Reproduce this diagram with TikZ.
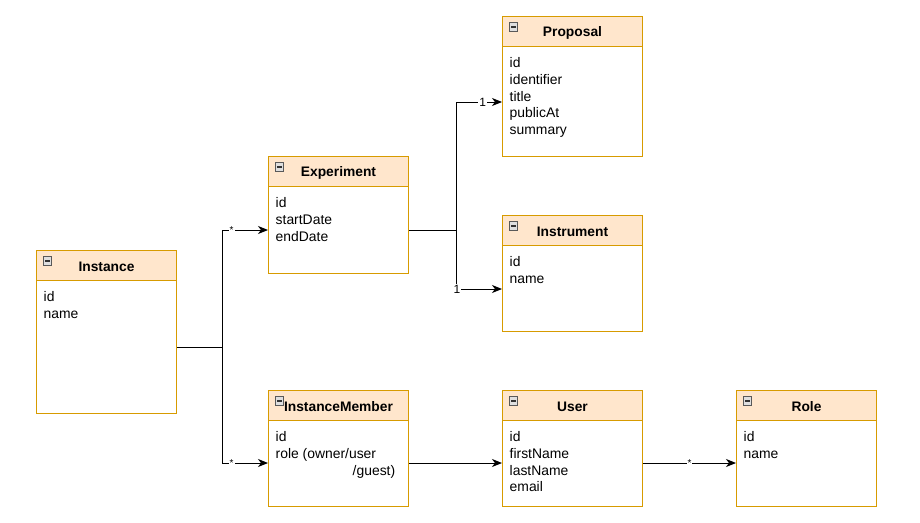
\documentclass[tikz,border=0pt]{standalone}
\usepackage{fontspec}
\setmainfont{Liberation Sans}
\usetikzlibrary{arrows.meta,calc}
\definecolor{hdr}{HTML}{FFE6CC}
\definecolor{bdr}{HTML}{D79B00}
\tikzset{
 classbox/.style={draw=bdr, fill=white, line width=1pt, minimum width=140pt, anchor=north west, inner sep=0pt},
 hdrbox/.style={draw=bdr, fill=hdr, line width=1pt, minimum width=140pt, minimum height=30pt, anchor=north west, inner sep=0pt},
 ctitle/.style={font=\fontsize{13.8}{16}\selectfont\bfseries, inner sep=0pt},
 cfields/.style={font=\fontsize{13.9}{16.7}\selectfont, align=left, anchor=north west, inner sep=0pt},
 collapse/.style={draw=gray!70!black, fill=gray!25, minimum width=8.5pt, minimum height=8.5pt, inner sep=0pt, line width=0.6pt,
   path picture={\draw[black!80, line width=1.3pt] ([xshift=1.8pt]path picture bounding box.west) -- ([xshift=-1.8pt]path picture bounding box.east);}},
 conn/.style={draw=black, line width=1pt},
 arr/.style={conn, -{Stealth[length=10pt,width=8pt,inset=3pt]}},
 lbl/.style={fill=white, inner sep=1pt, font=\fontsize{12}{14}\selectfont},
 slbl/.style={fill=white, inner sep=1pt, font=\fontsize{10}{12}\selectfont},
}
\newcommand\umlclass[6]{%
 \node[classbox, minimum height=#4] (#1) at (#2,#3) {};
 \node[hdrbox] (#1h) at (#1.north west) {};
 \node[ctitle] (#1t) at ($(#1h.center)+(0,1.5)$) {#5};
 \node[collapse] (#1i) at ($(#1h.north west)+(11.5,11)$) {};
 \node[cfields] (#1f) at ($(#1h.south west)+(7.5,10.5)$) {#6};
}
\begin{document}
\begin{tikzpicture}[x=1pt,y=-1pt]
\useasboundingbox[fill=white] (0,0) rectangle (920,522);
\umlclass{inst}{36}{250}{163}{Instance}{id\\name}
\umlclass{exp}{268}{156}{117}{Experiment}{id\\startDate\\endDate}
\umlclass{prop}{502}{16}{140}{Proposal}{id\\identifier\\title\\publicAt\\summary}
\umlclass{instr}{502}{215}{116}{Instrument}{id\\name}
\umlclass{im}{268}{390}{116}{InstanceMember}{id\\role (owner/user\\\hspace*{77pt}/guest)}
\umlclass{user}{502}{390}{116}{User}{id\\firstName\\lastName\\email}
\umlclass{role}{736}{390}{116}{Role}{id\\name}

\coordinate (instout) at ($(inst.north east)+(0,97)$);
\coordinate (j1) at (222.5,347);
\coordinate (expin) at ($(exp.north west)+(0,74)$);
\coordinate (imin) at ($(im.north west)+(0,73)$);
\coordinate (expout) at ($(exp.north east)+(0,74)$);
\coordinate (j2) at (456,230);
\coordinate (propin) at ($(prop.north west)+(0,86)$);
\coordinate (instrin) at ($(instr.north west)+(0,74)$);
\coordinate (imout) at ($(im.north east)+(0,73)$);
\coordinate (userin) at ($(user.north west)+(0,73)$);
\coordinate (userout) at ($(user.north east)+(0,73)$);
\coordinate (rolein) at ($(role.north west)+(0,73)$);

\draw[arr] (instout) -- (j1) |- node[slbl, pos=0.6] {*} (expin);
\draw[arr] (j1) |- node[slbl, pos=0.6] {*} (imin);
\draw[arr] (expout) -- (j2) |- node[lbl, pos=0.79] {1} (propin);
\draw[arr] (j2) |- node[lbl, pos=0.51] {1} (instrin);
\draw[arr] (imout) -- (userin);
\draw[arr] (userout) -- node[slbl, pos=0.5] {*} (rolein);
\end{tikzpicture}
\end{document}
